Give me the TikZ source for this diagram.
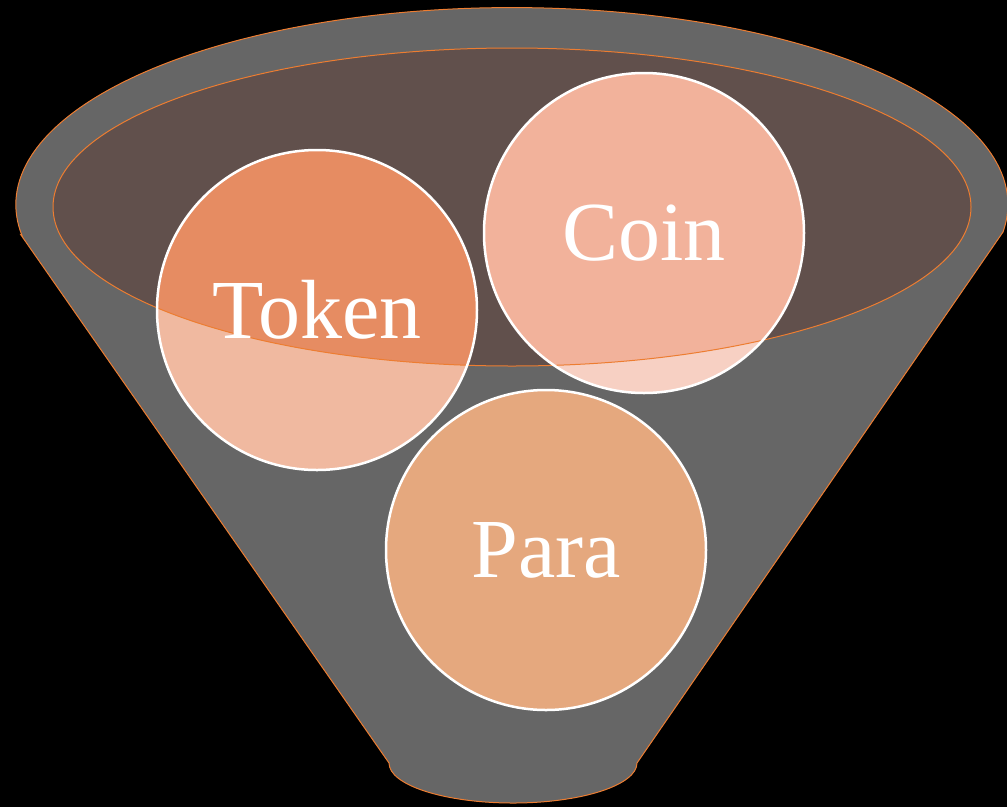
\documentclass[tikz,border=0pt]{standalone}
\usepackage{fontspec}
\setmainfont{Liberation Serif}
\usepackage{tikz}
\usetikzlibrary{calc,positioning}
\definecolor{rimgrey}{HTML}{666666}
\definecolor{rimline}{HTML}{ED7D31}
\definecolor{bowl}{HTML}{61504C}
\definecolor{tokenlo}{HTML}{F0B9A0}
\definecolor{tokenhi}{HTML}{E68C62}
\definecolor{coinlo}{HTML}{F7D0C3}
\definecolor{coinhi}{HTML}{F2B29B}
\definecolor{parafill}{HTML}{E5A87E}
\tikzset{ball/.style={circle,minimum size=320pt,inner sep=0pt,text=white,
font=\fontsize{84}{100}\selectfont},ring/.style={draw=white,line width=2.5pt},
edge/.style={draw=rimline,line width=1pt}}

\begin{document}
\begin{tikzpicture}[x=1pt,y=-1pt]
		\fill[black] (0,0) rectangle (1007,807);
		\useasboundingbox (0,0) rectangle (1007,807);
		% funnel body
		\filldraw[fill=rimgrey,edge] (21,235) -- (389,763)
			arc[start angle=180,end angle=0,x radius=124,y radius=40]
			-- (1003,232)
			arc[start angle=8,end angle=-189,x radius=496,y radius=197] -- cycle;
		\coordinate (rim) at (512,207);
		\fill[bowl] (rim) ellipse[x radius=459,y radius=159];
		% balls
		\node[ball,fill=tokenlo] (token) at (317,310) {};
		\node[ball,fill=coinlo] (coin) at (644,233) {};
		\node[ball,fill=parafill] (para) at (546,550) {};
		\begin{scope}
			\clip (rim) ellipse[x radius=459,y radius=159];
			\fill[tokenhi] (token.center) circle[radius=160];
			\fill[coinhi] (coin.center) circle[radius=160];
		\end{scope}
		\draw[edge] (rim) ellipse[x radius=459,y radius=159];
		\foreach \b in {token,coin,para}
			\draw[ring] (\b.center) circle[radius=160];
		\node[ball] at (token) {Token};
		\node[ball] at (coin) {Coin};
		\node[ball] at (para) {Para};
	\end{tikzpicture}
\end{document}
